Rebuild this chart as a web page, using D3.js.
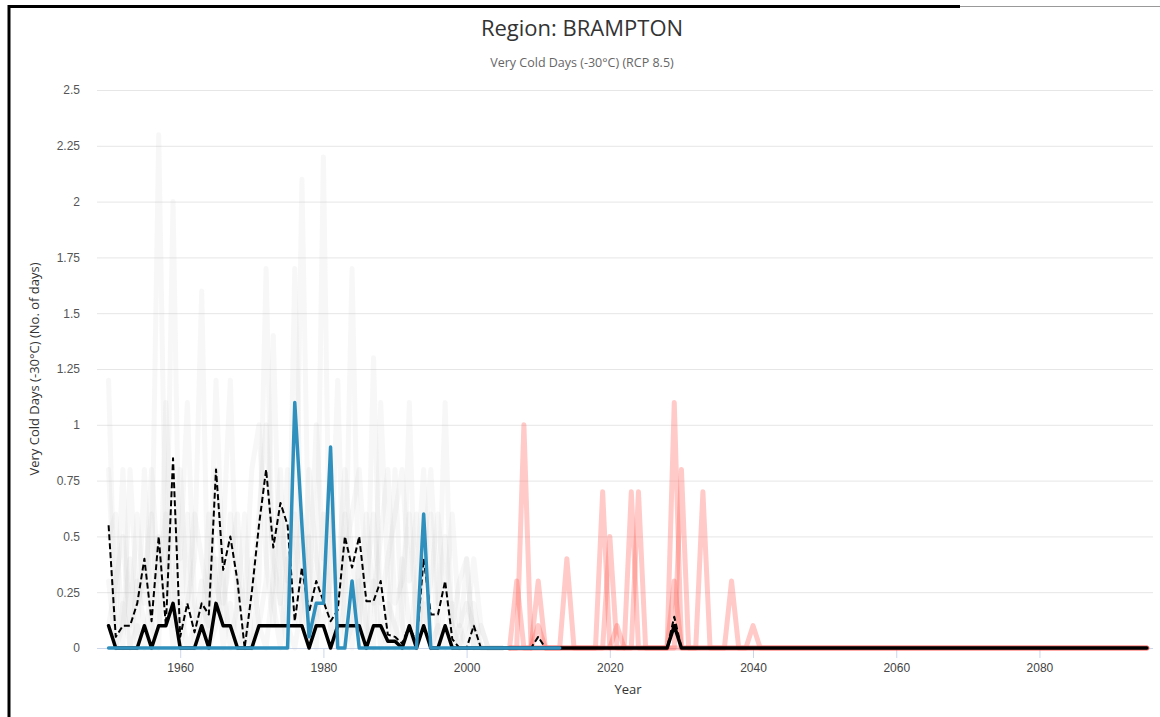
<!DOCTYPE html>
<html>
<head>
<meta charset="utf-8">
<script src="https://cdn.jsdelivr.net/npm/d3@7/dist/d3.min.js"></script>
<style>
  body {margin: 0; background: #fff;}
  svg {display: block; font-family: "Open Sans", sans-serif;}
</style>
</head>
<body>
<script>
const chartTitle = 'Region: BRAMPTON'
const chartSubtitle = 'Very Cold Days (-30°C) (RCP 8.5)'
const yTitle = 'Very Cold Days (-30°C) (No. of days)'
const xTitle = 'Year'

const yTicks = [0, 0.25, 0.5, 0.75, 1, 1.25, 1.5, 1.75, 2, 2.25, 2.5]
const xTicks = [1960, 1980, 2000, 2020, 2040, 2060, 2080]

// historical model runs, 1950-2005
const histStart = 1950
const histModel1 = [1.2,0,0.2,0,0.1,0,0.3,2.3,0.4,0, 0.2,0,0.1,0.3,0,0.4,0,0.2,0,0.1,
  0,0.3,1.7,0.2,0,0.4,0.1,2.1,0.3,0, 0.6,0.1,0,0.2,1.7,0.1,0,0.3,0,0.2,
  0.1,0,1.1,0,0.2,0,0.1,0,0.2,0, 0.4,0,0,0,0,0]
const histModel2 = [0.8,0.1,0.8,0,0.3,0.1,0,0.5,0.2,2.0, 0.1,0.6,0,0.2,0.1,1.2,0.3,0,0.2,0.6,
  0,0.1,0.3,1.4,0.2,0,1.7,0.3,0,0.2, 0.1,0.3,1.2,0,0.1,0.3,0,1.3,0.1,0,
  0.8,0.1,0,0.3,0.8,0,0.1,1.1,0,0.1, 0,0.2,0,0,0,0]
const histModel3 = [0.3,0,0.1,0.4,0,0.8,0.1,0,1.1,0.3, 0,0.2,0.4,1.6,0,0.1,0.5,1.2,0.1,0,
  0.4,0.1,0,0.3,0.8,0.1,0,0.2,0.5,0.1, 2.2,0,0.2,0.6,0,0.4,0.1,0,1.1,0.3,
  0,0.4,0.1,0,0.3,0.6,0,0.2,0.1,0, 0.1,0.4,0.1,0,0,0]
const histModel4 = [0.5,0.6,0,0.8,0.2,0.3,0.6,0.1,0.3,0.6, 0.4,1.1,0.2,0,0.6,0.3,0.1,0.6,0.3,0.2,
  0.8,1.0,0.4,0.1,0.6,0.3,0.6,0.1,0.8,0.4, 0.2,0.6,0.3,0.8,0.4,0.1,0.6,0.2,0.5,0.8,
  0.2,0.3,0.6,0.1,0.4,0.8,0.2,0.5,0.1,0.3, 0.4,0,0.1,0,0,0]
const histModel5 = [0.1,0.3,0.5,0.1,0.6,0.2,0.8,0.3,0.6,0.1, 0.8,0.2,0.6,0.4,0.2,0.8,0.2,0.4,0.6,0.1,
  0.2,0.6,1.0,0.4,0.2,0.8,0.3,0.6,0.2,1.0, 0.4,0.8,0.1,0.4,0.6,0.8,0.3,0.6,0.2,0.4,
  0.6,0.8,0.3,0.6,0.1,0.3,0.6,0.2,0.6,0.1, 0.2,0.1,0,0,0,0]

// RCP 8.5 model runs, 2006-2095
const futStart = 2006
const futModel1 = [0,0.3,0,0,0,0,0,0,0.4,0, 0,0,0,0,0.5,0,0,0,0.7,0, 0,0,0,0,0.8,0,0,0,0,0,
  0,0.3,0,0,0,0,0,0,0,0, 0,0,0,0,0,0,0,0,0,0, 0,0,0,0,0,0,0,0,0,0,
  0,0,0,0,0,0,0,0,0,0, 0,0,0,0,0,0,0,0,0,0, 0,0,0,0,0,0,0,0,0,0]
const futModel2 = [0,0,1.0,0,0,0,0,0,0,0, 0,0,0,0.7,0,0,0,0,0,0, 0,0,0,1.1,0,0,0,0,0,0,
  0,0,0,0,0,0,0,0,0,0, 0,0,0,0,0,0,0,0,0,0, 0,0,0,0,0,0,0,0,0,0,
  0,0,0,0,0,0,0,0,0,0, 0,0,0,0,0,0,0,0,0,0, 0,0,0,0,0,0,0,0,0,0]
const futModel3 = [0,0,0,0,0.3,0,0,0,0,0, 0,0,0,0,0,0,0,0.7,0,0, 0,0,0,0,0,0,0,0.7,0,0,
  0,0,0,0,0,0,0,0,0,0, 0,0,0,0,0,0,0,0,0,0, 0,0,0,0,0,0,0,0,0,0,
  0,0,0,0,0,0,0,0,0,0, 0,0,0,0,0,0,0,0,0,0, 0,0,0,0,0,0,0,0,0,0]
const futModel4 = [0,0,0,0,0.1,0,0,0,0,0, 0,0,0,0,0,0.1,0,0,0,0, 0,0,0,0.3,0,0,0,0,0,0,
  0,0,0,0,0.1,0,0,0,0,0, 0,0,0,0,0,0,0,0,0,0, 0,0,0,0,0,0,0,0,0,0,
  0,0,0,0,0,0,0,0,0,0, 0,0,0,0,0,0,0,0,0,0, 0,0,0,0,0,0,0,0,0,0]

// ensemble summary, 1950-2095
const ensStart = 1950
const ensUpper = [0.55,0.05,0.1,0.1,0.2,0.4,0.12,0.5,0.1,0.85, 0.05,0.2,0.07,0.2,0.15,0.8,0.35,0.5,0.3,0,
  0.25,0.55,0.8,0.45,0.65,0.55,0.12,0.36,0.16,0.3, 0.21,0.12,0.17,0.5,0.36,0.5,0.21,0.21,0.3,0.06,
  0.05,0.02,0.1,0.02,0.4,0.15,0.15,0.3,0.04,0, 0,0.1,0,0,0,0,0,0,0,0,
  0.05,0,0,0,0,0,0,0,0,0, 0,0,0,0,0,0,0,0,0,0.14, 0,0,0,0,0,0,0,0,0,0,
  0,0,0,0,0,0,0,0,0,0, 0,0,0,0,0,0,0,0,0,0, 0,0,0,0,0,0,0,0,0,0,
  0,0,0,0,0,0,0,0,0,0, 0,0,0,0,0,0,0,0,0,0, 0,0,0,0,0,0]
const ensMedian = [0.1,0,0,0,0,0.1,0,0.1,0.1,0.2, 0,0,0,0.1,0,0.2,0.1,0.1,0,0,
  0,0.1,0.1,0.1,0.1,0.1,0.1,0.1,0,0.1, 0.1,0,0.1,0.1,0.1,0.1,0,0.1,0.1,0.03,
  0.03,0,0.1,0,0.1,0,0,0.1,0,0, 0,0,0,0,0,0,0,0,0,0,
  0,0,0,0,0,0,0,0,0,0, 0,0,0,0,0,0,0,0,0,0.1, 0,0,0,0,0,0,0,0,0,0,
  0,0,0,0,0,0,0,0,0,0, 0,0,0,0,0,0,0,0,0,0, 0,0,0,0,0,0,0,0,0,0,
  0,0,0,0,0,0,0,0,0,0, 0,0,0,0,0,0,0,0,0,0, 0,0,0,0,0,0]

// observed, 1950-2013
const obsStart = 1950
const observed = [0,0,0,0,0,0,0,0,0,0, 0,0,0,0,0,0,0,0,0,0,
  0,0,0,0,0,0,1.1,0.55,0.05,0.2, 0.2,0.9,0,0,0.3,0,0,0,0,0,
  0,0,0,0,0.6,0,0,0,0,0, 0,0,0,0,0,0,0,0,0,0, 0,0,0,0]

const W = 1160
const H = 717

const svg = d3.select('body').append('svg').attr('width', W).attr('height', H)

// frame
svg.append('line').attr('x1', 960).attr('x2', W).attr('y1', 6.5).attr('y2', 6.5)
  .attr('stroke', '#999').attr('stroke-width', 1)
svg.append('path').attr('d', `M9,${H}V6.5H960`)
  .attr('fill', 'none').attr('stroke', '#000').attr('stroke-width', 3)

const x = d3.scaleLinear().domain([1948.8, 2095.3]).range([100, 1149])
const y = d3.scaleLinear().domain([0, 2.5]).range([648, 90])

const gridLeft = 97
const gridRight = 1153

// y axis + grid
const yAxis = svg.append('g').attr('transform', `translate(${gridLeft},0)`)
  .call(d3.axisLeft(y).tickValues(yTicks).tickSize(-(gridRight - gridLeft)).tickPadding(17)
    .tickFormat(d => String(d)))
yAxis.select('.domain').remove()
yAxis.selectAll('line').attr('stroke', '#e6e6e6')
yAxis.selectAll('text').attr('fill', '#555').style('font-size', '12px')

// x axis
const xAxis = svg.append('g').attr('transform', `translate(0,${y(0)})`)
  .call(d3.axisBottom(x).tickValues(xTicks).tickSize(10).tickPadding(5).tickFormat(d3.format('d')))
xAxis.select('.domain').remove()
xAxis.selectAll('line').attr('stroke', '#ccd6eb')
xAxis.selectAll('text').attr('fill', '#444').style('font-size', '12px')
svg.append('line').attr('x1', gridLeft).attr('x2', gridRight)
  .attr('y1', y(0) + 0.5).attr('y2', y(0) + 0.5).attr('stroke', '#ccd6eb')

const toPoints = (vals, start) => vals.map((v, i) => ({year: start + i, value: v}))
const line = d3.line().x(d => x(d.year)).y(d => y(d.value))

const plot = svg.append('g').attr('fill', 'none')
  .attr('stroke-linejoin', 'round').attr('stroke-linecap', 'round')

const histModels = [histModel1, histModel2, histModel3, histModel4, histModel5]
plot.selectAll('.hist').data(histModels).enter().append('path')
  .attr('class', 'hist')
  .attr('d', d => line(toPoints(d, histStart)))
  .attr('stroke', 'rgba(195,195,195,0.13)').attr('stroke-width', 5)

const futModels = [futModel1, futModel2, futModel3, futModel4]
plot.selectAll('.fut').data(futModels).enter().append('path')
  .attr('class', 'fut')
  .attr('d', d => line(toPoints(d, futStart)))
  .attr('stroke', 'rgba(255,90,80,0.32)').attr('stroke-width', 5)

plot.append('path').attr('d', line(toPoints(ensUpper, ensStart)))
  .attr('stroke', '#000').attr('stroke-width', 2).attr('stroke-dasharray', '6,3')
  .attr('stroke-linecap', 'butt')

plot.append('path').attr('d', line(toPoints(ensMedian, ensStart)))
  .attr('stroke', '#000').attr('stroke-width', 3.5)

plot.append('path').attr('d', line(toPoints(observed, obsStart)))
  .attr('stroke', '#2f90bd').attr('stroke-width', 3.5)

// titles
svg.append('text').attr('x', 582).attr('y', 36).attr('text-anchor', 'middle')
  .attr('fill', '#333').style('font-size', '22px').text(chartTitle)
svg.append('text').attr('x', 582).attr('y', 67).attr('text-anchor', 'middle')
  .attr('fill', '#666').style('font-size', '12.5px').text(chartSubtitle)
svg.append('text').attr('transform', `translate(39,${y(1.25)}) rotate(-90)`)
  .attr('text-anchor', 'middle').attr('fill', '#333').style('font-size', '13px').text(yTitle)
svg.append('text').attr('x', 628).attr('y', 694).attr('text-anchor', 'middle')
  .attr('fill', '#333').style('font-size', '13px').text(xTitle)
</script>
</body>
</html>
